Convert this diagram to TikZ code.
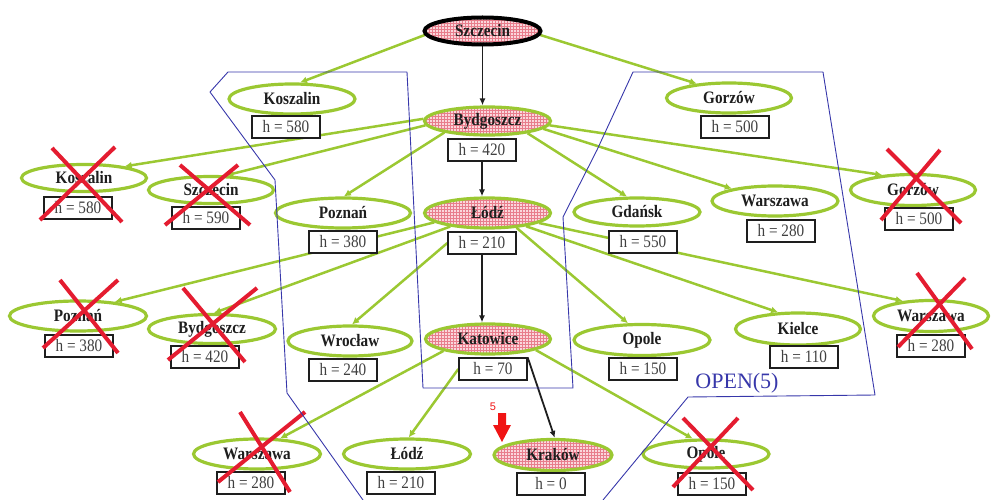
\documentclass[tikz,border=0pt]{standalone}
\usepackage{fontspec}
\setmainfont{Liberation Serif}
\newfontfamily\cityfont{Liberation Serif}[FakeStretch=0.87]
\newfontfamily\numfont{Liberation Sans}
\usetikzlibrary{shapes.geometric,patterns,arrows.meta}
\pgfdeclarelayer{edges}
\pgfsetlayers{edges,main}

\definecolor{leaf}{RGB}{155,200,50}
\definecolor{hatchbg}{RGB}{250,215,220}
\definecolor{hatchln}{RGB}{232,125,140}
\definecolor{cut}{RGB}{228,28,48}
\definecolor{openline}{RGB}{55,55,170}
\definecolor{ink}{RGB}{30,30,30}
\definecolor{marker}{RGB}{240,20,20}

\tikzset{
  city/.style={ellipse, draw=leaf, line width=3.2pt, fill=white, inner sep=0pt,
    minimum width=126pt, minimum height=30pt, text=ink,
    font=\cityfont\bfseries\fontsize{17.5}{17.5}\selectfont},
  current/.style={preaction={fill=hatchbg}, pattern=grid, pattern color=hatchln},
  hval/.style={rectangle, draw=ink, line width=1.3pt, fill=white, inner sep=0pt,
    minimum width=68pt, minimum height=22pt, text=ink!85,
    font=\cityfont\fontsize{17.5}{17.5}\selectfont},
  tree/.style={draw=leaf, line width=2.5pt, -{Latex[length=7pt,width=7pt]}},
  chosen/.style={draw=ink, line width=1.8pt, -{Latex[length=7pt,width=6pt]}},
  xmark/.style={draw=cut, line width=4pt},
  openset/.style={draw=openline, line width=0.9pt, line join=round},
}

\begin{document}
\begin{tikzpicture}[x=1pt,y=-1pt]
\useasboundingbox (0,0) rectangle (991,500);

% root
\node[city, current, draw=black, line width=4pt, minimum width=116pt, minimum height=27pt] (sz) at (482.5,31) {Szczecin};

% level 1
\node[city] (kos) at (292,99) {Koszalin};
\node[hval] (kosh) at (286,127) {h = 580};
\node[city, current, minimum height=28pt] (byd) at (487.5,121) {Bydgoszcz};
\node[hval] (bydh) at (482,150) {h = 420};
\node[city, minimum width=125pt] (gor) at (729,98) {Gorzów};
\node[hval] (gorh) at (735,127) {h = 500};

% level 2
\node[city, minimum width=125pt, minimum height=27pt] (kos2) at (84,178) {Koszalin};
\node[hval] (kos2h) at (78,208) {h = 580};
\node[city, minimum width=125pt, minimum height=27pt] (sz2) at (211,190) {Szczecin};
\node[hval] (sz2h) at (206,218) {h = 590};
\node[city, minimum width=135pt] (poz) at (343,213) {Poznań};
\node[hval] (pozh) at (343,242) {h = 380};
\node[city, current] (lodz) at (487.5,213) {Łódź};
\node[hval] (lodzh) at (482,243) {h = 210};
\node[city, minimum height=28pt] (gda) at (637,212) {Gdańsk};
\node[hval] (gdah) at (643,242) {h = 550};
\node[city] (war) at (775,201) {Warszawa};
\node[hval] (warh) at (781,231) {h = 280};
\node[city, minimum width=125pt, minimum height=31pt] (gor2) at (913,190) {Gorzów};
\node[hval] (gor2h) at (919,219) {h = 500};

% level 3
\node[city, minimum width=137pt] (poz2) at (78,316) {Poznań};
\node[hval] (poz2h) at (79,346) {h = 380};
\node[city, minimum width=127pt, minimum height=29pt] (byd2) at (212,329) {Bydgoszcz};
\node[hval] (byd2h) at (205,357) {h = 420};
\node[city, minimum width=124pt] (wro) at (350,341) {Wrocław};
\node[hval] (wroh) at (343,370) {h = 240};
\node[city, current, minimum width=125pt] (kato) at (488,339) {Katowice};
\node[hval] (katoh) at (493,369) {h = 70};
\node[city, minimum width=136pt, minimum height=31pt] (opo) at (642,340) {Opole};
\node[hval] (opoh) at (643,369) {h = 150};
\node[city, minimum width=125pt, minimum height=32pt] (kie) at (798,329) {Kielce};
\node[hval] (kieh) at (804,357) {h = 110};
\node[city, minimum width=115pt, minimum height=31pt] (war2) at (931,316) {Warszawa};
\node[hval] (war2h) at (931,346) {h = 280};

% level 4
\node[city, minimum width=127pt] (war3) at (257,454) {Warszawa};
\node[hval] (war3h) at (251,483) {h = 280};
\node[city, minimum width=127pt] (lodz3) at (407,454) {Łódź};
\node[hval] (lodz3h) at (401,483) {h = 210};
\node[city, current, minimum width=118pt, minimum height=31pt] (kra) at (553,455) {Kraków};
\node[hval] (krah) at (551,484) {h = 0};
\node[city, minimum width=126pt, minimum height=28pt] (opo2) at (706,454) {Opole};
\node[hval] (opo2h) at (712,484) {h = 150};

% connectors
\begin{pgfonlayer}{edges}
\draw[tree] (sz.184) -- (kos.64);
\draw[tree] (sz.356) -- (gor.156);
\draw[chosen] (sz.south) -- (sz.south |- byd.north);

\draw[tree] (byd.178) -- (kos2.16);
\draw[tree] (byd.184) -- (sz2.44);
\draw[tree] (byd.195) -- (poz.87);
\draw[tree] (byd.343) -- (gda.123);
\draw[tree] (byd.352) -- (war.164);
\draw[tree] (byd.356) -- (gor2.154);
\draw[chosen] (bydh.south) -- (bydh.south |- lodz.north);

\draw[tree] (lodz.190) -- (poz2.21);
\draw[tree] (lodz.200) -- (byd2.83);
\draw[tree] (lodzh.west) -- (wro.83);
\draw[tree] (lodz.333) -- (opo.130);
\draw[tree] (lodz.341) -- (kie.140);
\draw[tree] (lodz.349) -- (war2.152);
\draw[chosen] (lodzh.south) -- (lodzh.south |- kato.north);

\draw[tree] (kato.195) -- (war3.34);
\draw[tree] (katoh.west) -- (lodz3.84);
\draw[chosen] (katoh.north east) -- (kra.84);
\draw[tree] (kato.347) -- (opo2.131);
\end{pgfonlayer}

% closed nodes crossed out
\draw[xmark] (52,148) -- (122,222) (115,147) -- (40,220);
\draw[xmark] (180,165) -- (250,225) (238,165) -- (165,225);
\draw[xmark] (887,149) -- (961,223) (940,150) -- (881,220);
\draw[xmark] (917,273) -- (972,349) (965,278) -- (898,347);
\draw[xmark] (60,280) -- (118,353) (118,280) -- (43,348);
\draw[xmark] (183,288) -- (245,362) (257,288) -- (168,360);
\draw[xmark] (240,412) -- (290,492) (305,412) -- (218,482);
\draw[xmark] (683,418) -- (753,490) (738,418) -- (673,487);

% boundary of the open list
\draw[openset] (363,500) -- (287,393) -- (275,180) -- (210,92) -- (228,72)
  -- (407,72) -- (423,388) -- (573,388) -- (563,217) -- (597,150)
  -- (633,72) -- (823,72) -- (875,395) -- (688,397) -- (603,500);
\node[text=openline, font=\fontsize{22}{22}\selectfont] (openlbl) at (737,383) {OPEN(5)};

% step marker
\fill[marker] (498,413) -- (506,413) -- (506,425) -- (511,425) -- (502,442)
  -- (493,425) -- (498,425) -- cycle;
\node[text=marker, font=\numfont\fontsize{11}{11}\selectfont] (stepno) at (493,407) {5};
\end{tikzpicture}
\end{document}
